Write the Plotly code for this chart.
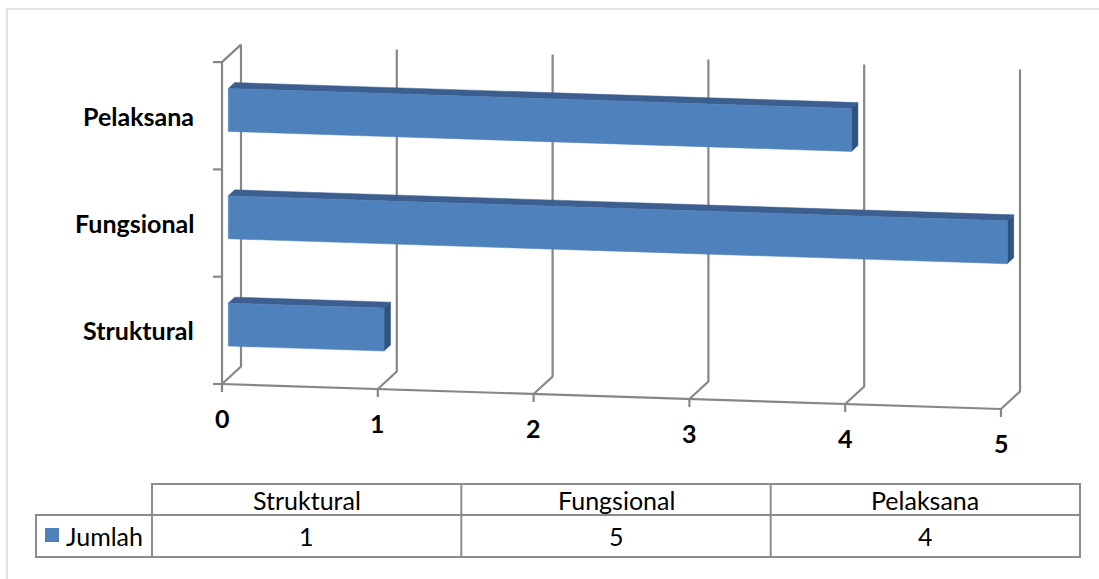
import plotly.graph_objects as go

# ---- data ----
categories = ["Struktural", "Fungsional", "Pelaksana"]
jumlah = [1, 5, 4]
series_name = "Jumlah"
x_ticks = [0, 1, 2, 3, 4, 5]

# ---- look ----
W, H = 1099, 579
FONT = "Lato"
BAR_FRONT = "#4f81bd"
BAR_TOP = "#3c5f8f"
BAR_SIDE = "#30527e"
GRID = "#878787"

# pixel geometry of the oblique projection
PX_UNIT = 155.8      # px per value unit along the front baseline
PY_BAND = 107.3      # px per category band
ORIGIN = (222, 384)  # front-left-bottom corner in px
SHEAR = 5.0          # px the floor drops per value unit
DEPTH = (19, -17.5)  # px offset from front wall to back wall

DX = DEPTH[0] / PX_UNIT
DY = -DEPTH[1] / PY_BAND
SL = SHEAR / PY_BAND

BAR_H = 0.40         # bar thickness in band units
D_FRONT, D_BACK = 0.33, 0.67  # bar depth inside the floor


def proj(v, h, d=0.0):
    """Value v, height h (band units), depth d (0 front .. 1 back) -> axis coords."""
    return v + d * DX, h - v * SL + d * DY


def path(points):
    xs, ys = [], []
    for p in points:
        if p is None:
            xs.append(None)
            ys.append(None)
        else:
            x, y = proj(*p)
            xs.append(x)
            ys.append(y)
    return xs, ys


fig = go.Figure()
n_cat = len(categories)
vmax = x_ticks[-1]

# ---- walls, floor diagonals and gridlines ----
pts = []
for v in x_ticks:
    pts += [(v, 0, 0), (v, 0, 1), (v, n_cat, 1), None]
pts += [(0, 0, 0), (0, n_cat, 0), (0, n_cat, 1), None]
pts += [(0, 0, 0), (vmax, 0, 0), None]
gx, gy = path(pts)
fig.add_trace(go.Scatter(x=gx, y=gy, mode="lines",
                         line=dict(color=GRID, width=2.2),
                         hoverinfo="skip", showlegend=False))

# tick marks
tx, ty = [], []
for h in range(n_cat + 1):
    x, y = proj(0, h)
    tx += [x - 9 / PX_UNIT, x, None]
    ty += [y, y, None]
for v in x_ticks:
    x, y = proj(v, 0)
    tx += [x, x, None]
    ty += [y, y - 8 / PY_BAND, None]
fig.add_trace(go.Scatter(x=tx, y=ty, mode="lines",
                         line=dict(color=GRID, width=2.2),
                         hoverinfo="skip", showlegend=False))

# ---- 3-D bars ----
for i, (cat, val) in enumerate(zip(categories, jumlah)):
    hc = i + 0.5
    h0, h1 = hc - BAR_H / 2, hc + BAR_H / 2
    faces = [
        (BAR_TOP, [(0, h1, D_FRONT), (val, h1, D_FRONT), (val, h1, D_BACK), (0, h1, D_BACK)]),
        (BAR_SIDE, [(val, h0, D_FRONT), (val, h0, D_BACK), (val, h1, D_BACK), (val, h1, D_FRONT)]),
        (BAR_FRONT, [(0, h0, D_FRONT), (val, h0, D_FRONT), (val, h1, D_FRONT), (0, h1, D_FRONT)]),
    ]
    for color, corners in faces:
        fx, fy = path(corners + [corners[0]])
        fig.add_trace(go.Scatter(x=fx, y=fy, mode="lines", fill="toself",
                                 fillcolor=color, line=dict(color=color, width=0.5),
                                 name=cat, text=f"{cat}: {val}", hoverinfo="text",
                                 showlegend=False))

annotations = []
# category labels
for i, cat in enumerate(categories):
    annotations.append(dict(x=-26 / PX_UNIT, y=i + 0.5, xref="x", yref="y",
                            text=f"<b>{cat}</b>", showarrow=False,
                            xanchor="right", yanchor="middle",
                            font=dict(family=FONT, size=25, color="#000000")))
# value axis labels
for v in x_ticks:
    x, y = proj(v, 0)
    annotations.append(dict(x=x, y=y, xref="x", yref="y", yshift=-34,
                            text=f"<b>{v}</b>", showarrow=False,
                            xanchor="center", yanchor="middle",
                            font=dict(family=FONT, size=25, color="#000000")))

# ---- data table under the chart ----
def px(x):
    return x / W


def py(y):
    return 1 - y / H


shapes = []
LINE = dict(color="#8c8c8c", width=2)
T_LEFT, T_KEY, T_RIGHT = 36, 152, 1080
T_TOP, T_MID, T_BOT = 484, 515, 557
col_w = (T_RIGHT - T_KEY) / n_cat

# outer chart border
shapes.append(dict(type="rect", xref="paper", yref="paper",
                   x0=px(7), x1=px(1106), y0=py(9), y1=py(590),
                   line=dict(color="#d9d9d9", width=1.5), layer="below"))
# header row
shapes.append(dict(type="rect", xref="paper", yref="paper",
                   x0=px(T_KEY), x1=px(T_RIGHT), y0=py(T_TOP), y1=py(T_MID), line=LINE))
# value row
shapes.append(dict(type="rect", xref="paper", yref="paper",
                   x0=px(T_LEFT), x1=px(T_RIGHT), y0=py(T_MID), y1=py(T_BOT), line=LINE))
for k in range(1, n_cat + 1):
    xk = T_KEY + k * col_w
    shapes.append(dict(type="line", xref="paper", yref="paper",
                       x0=px(xk), x1=px(xk), y0=py(T_TOP), y1=py(T_BOT), line=LINE))
shapes.append(dict(type="line", xref="paper", yref="paper",
                   x0=px(T_KEY), x1=px(T_KEY), y0=py(T_MID), y1=py(T_BOT), line=LINE))
# legend key
shapes.append(dict(type="rect", xref="paper", yref="paper",
                   x0=px(45), x1=px(59), y0=py(528), y1=py(542),
                   fillcolor=BAR_FRONT, line=dict(width=0)))

tfont = dict(family=FONT, size=25, color="#000000")
for k, (cat, val) in enumerate(zip(categories, jumlah)):
    xc = T_KEY + (k + 0.5) * col_w
    annotations.append(dict(x=px(xc), y=py((T_TOP + T_MID) / 2), xref="paper", yref="paper",
                            text=cat, showarrow=False, xanchor="center", yanchor="middle",
                            font=tfont))
    annotations.append(dict(x=px(xc), y=py((T_MID + T_BOT) / 2), xref="paper", yref="paper",
                            text=str(val), showarrow=False, xanchor="center", yanchor="middle",
                            font=tfont))
annotations.append(dict(x=px(64), y=py((T_MID + T_BOT) / 2), xref="paper", yref="paper",
                        text=series_name, showarrow=False, xanchor="left", yanchor="middle",
                        font=tfont))

x_lo = -ORIGIN[0] / PX_UNIT
x_hi = (W - ORIGIN[0]) / PX_UNIT
y_lo = (ORIGIN[1] - H) / PY_BAND
y_hi = ORIGIN[1] / PY_BAND

fig.update_layout(
    width=W, height=H, autosize=False,
    margin=dict(l=0, r=0, t=0, b=0),
    paper_bgcolor="#ffffff", plot_bgcolor="#ffffff",
    xaxis=dict(range=[x_lo, x_hi], visible=False, fixedrange=True),
    yaxis=dict(range=[y_lo, y_hi], visible=False, fixedrange=True),
    shapes=shapes, annotations=annotations,
    showlegend=False,
)

fig.write_html("out.html", config={"displayModeBar": False})
